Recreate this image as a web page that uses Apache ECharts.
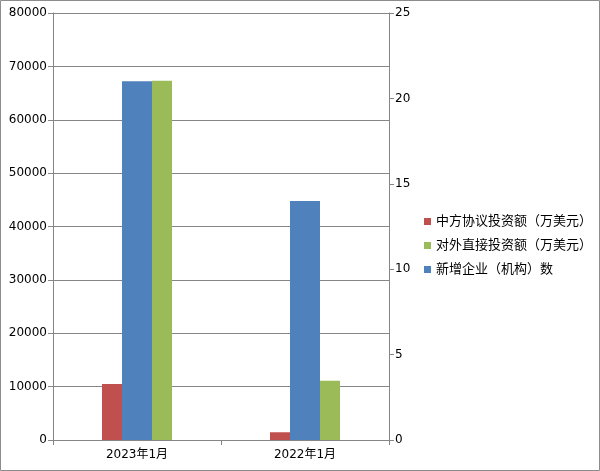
<!DOCTYPE html>
<html><head><meta charset="utf-8">
<script src="https://cdn.jsdelivr.net/npm/echarts@6/dist/echarts.min.js"></script>
<style>html,body{margin:0;padding:0;background:#fff}#c{width:600px;height:471px}</style>
</head><body><div id="c"></div>
<script>
const categories = ['2023年1月', '2022年1月'];
const agreedInvestment = [10500, 1450];
const directInvestment = [67300, 11100];
const newEnterprises = [21, 14];
const leftTicks = {min: 0, max: 80000, interval: 10000};
const rightTicks = {min: 0, max: 25, interval: 5};
const names = ['中方协议投资额（万美元）', '对外直接投资额（万美元）', '新增企业（机构）数'];

const font = "'DejaVu Sans', 'Noto Sans CJK SC', sans-serif";
const chart = echarts.init(document.getElementById('c'));
chart.setOption({
  animation: false,
  textStyle: {fontFamily: font},
  graphic: [{type: 'rect', shape: {x: 0.5, y: 0.5, width: 599, height: 470}, style: {fill: 'none', stroke: '#8c8c8c', lineWidth: 1}}],
  grid: {left: 53, right: 211, top: 13, bottom: 31},
  legend: {
    orient: 'vertical', left: 419, top: 210, itemWidth: 7, itemHeight: 7, itemGap: 11,
    icon: 'rect', data: [names[0], names[1], names[2]],
    textStyle: {fontSize: 13, color: '#000', fontFamily: font}
  },
  xAxis: {
    type: 'category', data: categories,
    axisLine: {lineStyle: {color: '#868686'}},
    axisTick: {show: true, length: 5, lineStyle: {color: '#868686'}},
    axisLabel: {color: '#000', fontSize: 12, margin: 9}
  },
  yAxis: [{
    type: 'value', min: leftTicks.min, max: leftTicks.max, interval: leftTicks.interval,
    axisLine: {show: true, lineStyle: {color: '#868686'}},
    axisTick: {show: true, length: 5, lineStyle: {color: '#868686'}},
    axisLabel: {color: '#000', fontSize: 12, margin: 6, formatter: v => String(v)},
    splitLine: {lineStyle: {color: '#868686'}}
  }, {
    type: 'value', min: rightTicks.min, max: rightTicks.max, interval: rightTicks.interval,
    axisLine: {show: true, lineStyle: {color: '#868686'}},
    axisTick: {show: true, length: 5, lineStyle: {color: '#868686'}},
    axisLabel: {color: '#000', fontSize: 12, margin: 6, formatter: v => String(v)},
    splitLine: {show: false}
  }],
  series: [
    {name: names[0], type: 'bar', yAxisIndex: 0, data: agreedInvestment, barWidth: 20, barGap: '0%', itemStyle: {color: '#C0504D'}},
    {name: names[2], type: 'bar', yAxisIndex: 1, data: newEnterprises, barWidth: 30, barGap: '0%', itemStyle: {color: '#4F81BD'}},
    {name: names[1], type: 'bar', yAxisIndex: 0, data: directInvestment, barWidth: 20, barGap: '0%', itemStyle: {color: '#9BBB59'}}
  ]
});
</script></body></html>
